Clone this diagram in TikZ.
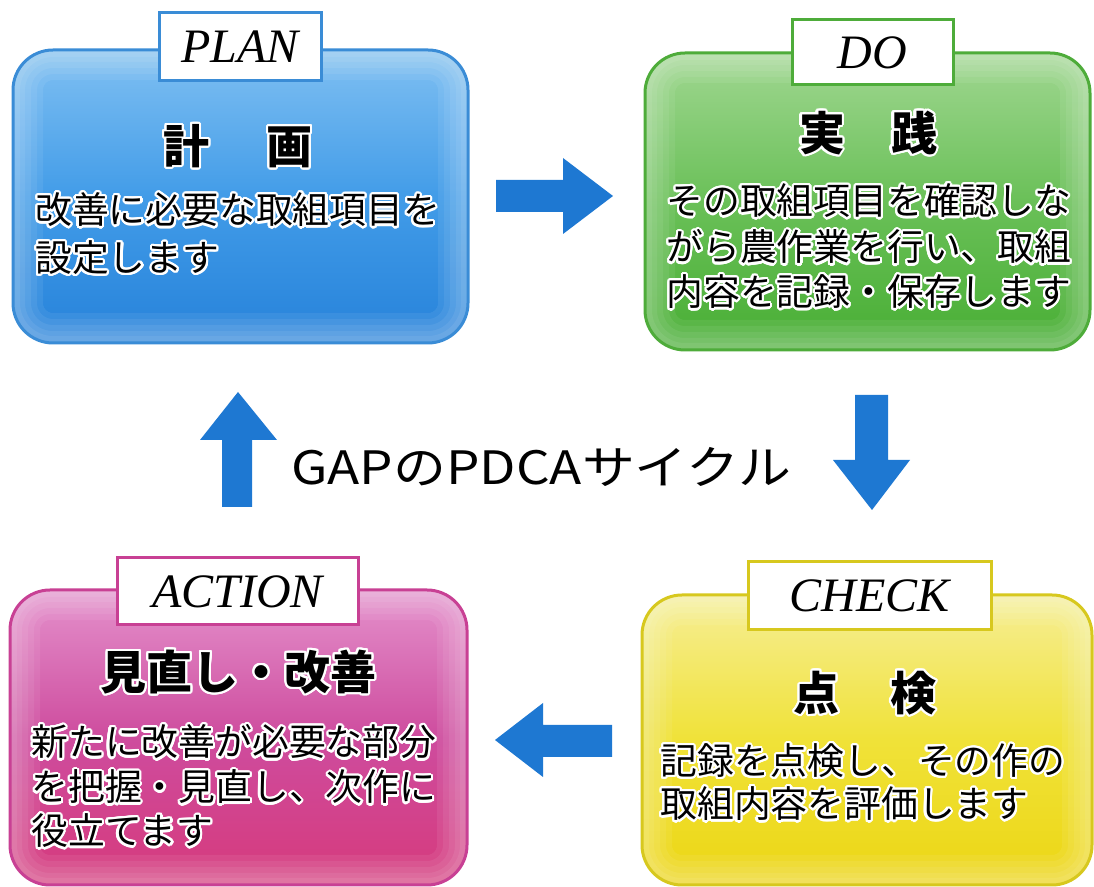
\documentclass[tikz,border=0pt]{standalone}
\usepackage{fontspec}
\setmainfont{Liberation Serif}
\newfontfamily\jp{Noto Sans CJK JP}
\usepackage{graphicx}
\usepackage{contour}
\contourlength{1.1pt}
\contournumber{24}

\definecolor{bluB}{RGB}{58,140,214}
\definecolor{bluT}{RGB}{128,192,242}
\definecolor{bluM}{RGB}{66,156,232}
\definecolor{bluD}{RGB}{38,130,218}
\definecolor{grnB}{RGB}{78,172,58}
\definecolor{grnT}{RGB}{160,215,145}
\definecolor{grnM}{RGB}{106,192,88}
\definecolor{grnD}{RGB}{72,174,52}
\definecolor{pnkB}{RGB}{200,64,148}
\definecolor{pnkT}{RGB}{228,145,204}
\definecolor{pnkM}{RGB}{206,76,158}
\definecolor{pnkD}{RGB}{214,58,124}
\definecolor{ylwB}{RGB}{215,200,30}
\definecolor{ylwT}{RGB}{246,238,150}
\definecolor{ylwM}{RGB}{240,226,56}
\definecolor{ylwD}{RGB}{236,214,20}
\definecolor{arr}{RGB}{30,120,210}

\tikzset{
  glowline/.style={white, rounded corners=20pt, line width=#1},
  box/.style={rounded corners=20pt, draw=#1B, line width=1.5pt,
    top color=#1T, bottom color=#1D, middle color=#1M, inner sep=0pt,
    path picture={
      \foreach \w in {30pt,24pt,18pt,12pt,7pt}{
        \draw[glowline=\w, opacity=.07]
          (path picture bounding box.south west) rectangle (path picture bounding box.north east);
      }
    }},
  lbl/.style={draw=#1B, line width=1.5pt, fill=white, inner sep=0pt,
    font=\itshape\fontsize{24}{24}\selectfont},
  ttl/.style={font=\jp\bfseries\fontsize{23}{23}\selectfont, inner sep=0pt},
  bdy/.style={font=\jp\fontsize{18.4}{18.4}\selectfont, inner sep=0pt, anchor=west},
  flow/.style={fill=arr, draw=none},
  mid/.style={font=\jp\fontsize{23}{23}\selectfont, inner sep=0pt, anchor=base west}
}
\newcommand{\wt}[1]{\contour{white}{#1}}

\begin{document}
\begin{tikzpicture}[x=0.5pt,y=-0.5pt]
\useasboundingbox[fill=white] (0,0) rectangle (1094,887);

% boxes
\node[box=blu, minimum width=227.5pt, minimum height=146.5pt] (plan) at (240.5,196.5) {};
\node[box=grn, minimum width=222.5pt, minimum height=148.5pt] (do) at (867.5,201.5) {};
\node[box=pnk, minimum width=228.5pt, minimum height=147.5pt] (action) at (238.5,737.5) {};
\node[box=ylw, minimum width=225pt, minimum height=145pt] (check) at (867,740) {};

% labels
\node[lbl=blu, minimum width=81pt, minimum height=34pt] (planl) at (240,47) {PLAN};
\node[lbl=grn, minimum width=80.5pt, minimum height=32.5pt] (dol) at (872.5,52.5) {DO};
\node[lbl=pnk, minimum width=120.5pt, minimum height=33.5pt] (actionl) at (237.5,591.5) {ACTION};
\node[lbl=ylw, minimum width=121.5pt, minimum height=34pt] (checkl) at (869.5,596) {CHECK};

% titles
\node[ttl] (plant) at (238,147) {\wt{計}\hspace{1.25em}\wt{画}};
\node[ttl] (dot) at (868,134) {\wt{実}\hspace{1em}\wt{践}};
\node[ttl] (actiont) at (238.5,673) {\wt{見直し・改善}};
\node[ttl] (checkt) at (865,694) {\wt{点}\hspace{1.1em}\wt{検}};

% bodies
\node[bdy] (plan1) at (35,211) {\wt{改善に必要な取組項目を}};
\node[bdy] (plan2) at (35,259) {\wt{設定します}};
\node[bdy] (do1) at (666,202) {\wt{その取組項目を確認しな}};
\node[bdy] (do2) at (666,248) {\wt{がら農作業を行い、取組}};
\node[bdy] (do3) at (666,293) {\wt{内容を記録・保存します}};
\node[bdy] (action1) at (31,743) {\wt{新たに改善が必要な部分}};
\node[bdy] (action2) at (31,788) {\wt{を把握・見直し、次作に}};
\node[bdy] (action3) at (31,832) {\wt{役立てます}};
\node[bdy] (check1) at (660,762) {\wt{記録を点検し、その作の}};
\node[bdy] (check2) at (660,805) {\wt{取組内容を評価します}};

% centre caption
\node[mid] (cycle) at (291,485) {\scalebox{1.15}[1]{GAPのPDCAサイクル}};

% block arrows
\path[flow] (496,180) -- (563,180) -- (563,158) -- (613,196) -- (563,234) -- (563,212) -- (496,212) -- cycle;
\path[flow] (855,395) -- (855,460) -- (833,460) -- (872,510) -- (910,460) -- (888,460) -- (888,395) -- cycle;
\path[flow] (612,725) -- (543,725) -- (543,703) -- (495,740) -- (543,777) -- (543,757) -- (612,757) -- cycle;
\path[flow] (222,507) -- (222,440) -- (200,440) -- (238,392) -- (277,440) -- (252,440) -- (252,507) -- cycle;
\end{tikzpicture}
\end{document}
